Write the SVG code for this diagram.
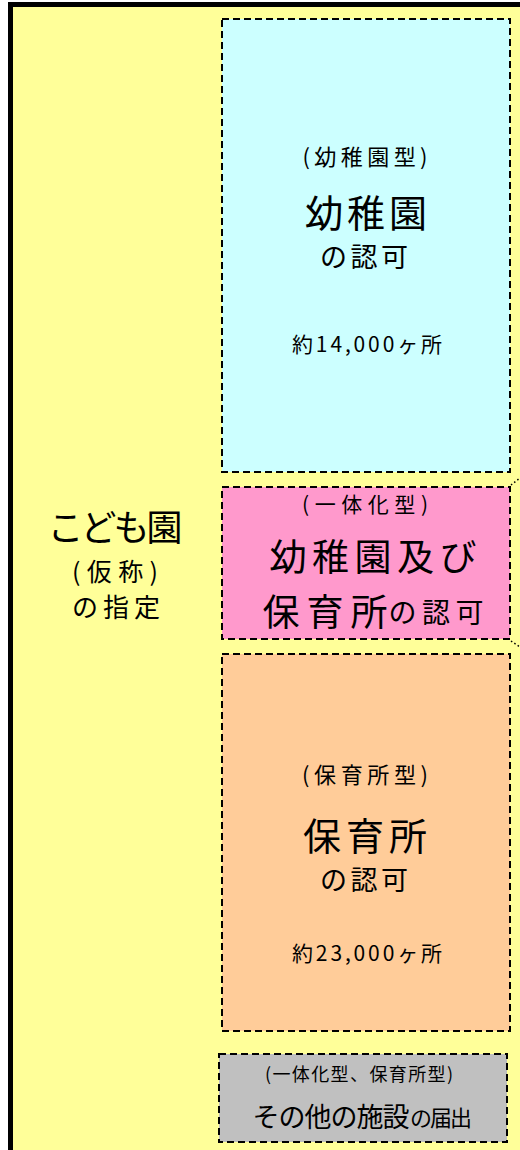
<svg xmlns="http://www.w3.org/2000/svg" width="520" height="1150" viewBox="0 0 520 1150">
<style>
text{font-family:"Noto Sans CJK JP","Noto Sans",sans-serif;fill:#000;text-anchor:middle;dominant-baseline:central}
.box{stroke:#000;stroke-width:2;stroke-dasharray:7 4}
.dot{stroke:#000;stroke-width:1.5;stroke-dasharray:1.5 2.5;fill:none}
</style>
<rect width="520" height="1150" fill="#fff"/>
<g id="outer">
<rect x="10.5" y="4.5" width="600" height="1200" fill="#FFFF99" stroke="#000" stroke-width="5"/>
<text x="115" y="525" font-size="36" textLength="135" lengthAdjust="spacing">こども園</text>
<text x="115" y="570" font-size="25" textLength="86" lengthAdjust="spacing">(仮称)</text>
<text x="116" y="605" font-size="26" textLength="88" lengthAdjust="spacing">の指定</text>
</g>
<g id="kindergarten">
<rect class="box" x="222" y="19" width="288" height="453" fill="#CCFFFF"/>
<text x="365" y="155" font-size="22" textLength="125" lengthAdjust="spacing">(幼稚園型)</text>
<text x="366" y="210" font-size="38" textLength="122" lengthAdjust="spacing">幼稚園</text>
<text x="364" y="255" font-size="27" textLength="88" lengthAdjust="spacing">の認可</text>
<text x="367" y="343" font-size="21" textLength="150" lengthAdjust="spacing">約14,000ヶ所</text>
</g>
<g id="integrated">
<rect class="box" x="222" y="487" width="288" height="152" fill="#FF99CC"/>
<text x="365" y="503" font-size="21" textLength="126" lengthAdjust="spacing">(一体化型)</text>
<text x="373" y="555" font-size="37" textLength="207" lengthAdjust="spacing">幼稚園及び</text>
<text x="325" y="610" font-size="37" textLength="125" lengthAdjust="spacing">保育所</text>
<text x="436" y="611" font-size="28" textLength="95" lengthAdjust="spacing">の認可</text>
</g>
<g id="nursery">
<rect class="box" x="222" y="654" width="288" height="377" fill="#FFCC99"/>
<text x="365" y="773" font-size="22" textLength="126" lengthAdjust="spacing">(保育所型)</text>
<text x="365" y="833" font-size="38" textLength="124" lengthAdjust="spacing">保育所</text>
<text x="364" y="878" font-size="27" textLength="88" lengthAdjust="spacing">の認可</text>
<text x="367" y="952" font-size="21" textLength="150" lengthAdjust="spacing">約23,000ヶ所</text>
</g>
<g id="other">
<rect class="box" x="219" y="1054" width="288" height="88" fill="#C0C0C0"/>
<text x="359" y="1073" font-size="18" textLength="188" lengthAdjust="spacing">(一体化型、保育所型)</text>
<text x="331" y="1115" font-size="27" textLength="157" lengthAdjust="spacing">その他の施設</text>
<text x="441" y="1116" font-size="22" textLength="62" lengthAdjust="spacing">の届出</text>
</g>
<g id="connectors">
<path class="dot" d="M511 485 L520 478"/>
<path class="dot" d="M511 641 L520 647"/>
</g>
</svg>
